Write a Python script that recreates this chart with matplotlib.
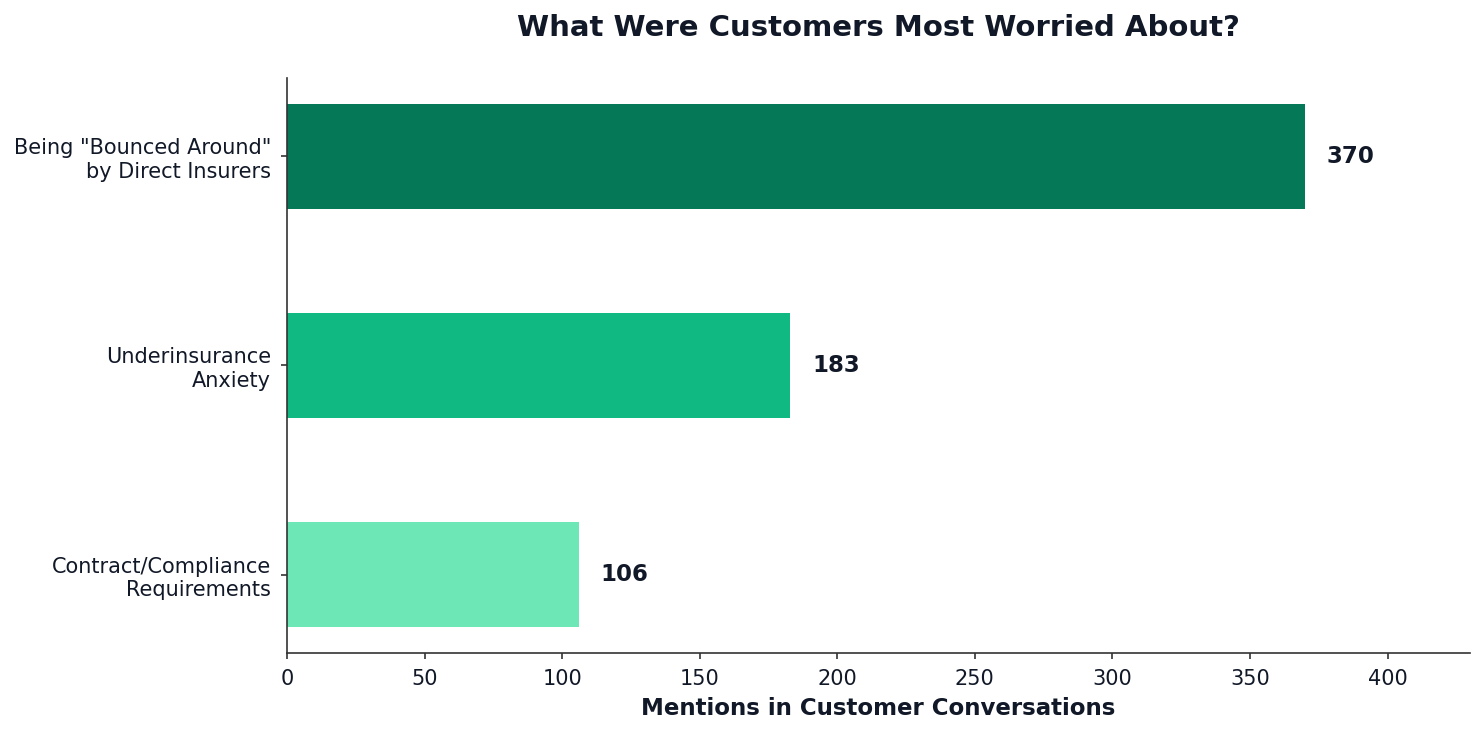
import matplotlib.pyplot as plt

categories = ['Contract/Compliance\nRequirements', 'Underinsurance\nAnxiety',
              'Being "Bounced Around"\nby Direct Insurers']
mentions = [106, 183, 370]
colors = ['#6EE7B7', '#10B981', '#047857']

text_color = '#111827'
axis_color = '#333333'

fig, ax = plt.subplots(figsize=(14.84, 7.34), dpi=100)
fig.subplots_adjust(left=0.1934, right=0.9906, top=0.8937, bottom=0.1104)

bars = ax.barh(categories, mentions, height=0.5, color=colors)
for bar, val in zip(bars, mentions):
    ax.text(val + 8, bar.get_y() + bar.get_height() / 2, str(val),
            va='center', ha='left', fontsize=16.5, fontweight='bold', color=text_color)

ax.set_xlim(0, 430)
ax.set_ylim(-0.375, 2.375)
ax.set_xlabel('Mentions in Customer Conversations', fontsize=16.5, fontweight='bold',
              color=text_color, labelpad=6)
ax.set_title('What Were Customers Most Worried About?', fontsize=21, fontweight='bold',
             color=text_color, pad=30)
ax.tick_params(axis='both', labelsize=15, labelcolor=text_color, color=axis_color,
               width=1.2, length=4.5, pad=7)
ax.spines['top'].set_visible(False)
ax.spines['right'].set_visible(False)
for side in ['left', 'bottom']:
    ax.spines[side].set_color(axis_color)
    ax.spines[side].set_linewidth(1.2)

fig.savefig('out.png', dpi=100)
